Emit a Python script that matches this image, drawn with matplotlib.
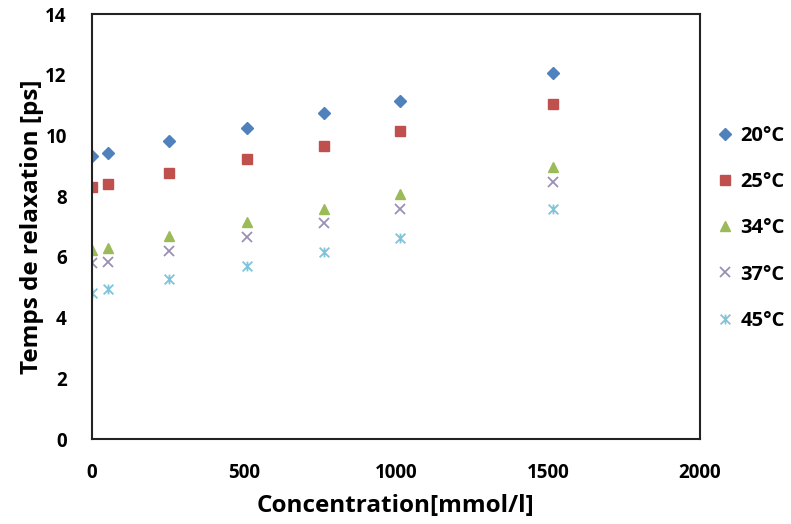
import matplotlib.pyplot as plt
from matplotlib.path import Path

# concentration (mmol/l)
conc = [0, 55, 255, 510, 765, 1015, 1515]

# relaxation time (ps) per temperature
t20 = [9.32, 9.44, 9.81, 10.25, 10.73, 11.14, 12.07]
t25 = [8.31, 8.40, 8.77, 9.23, 9.67, 10.14, 11.03]
t34 = [6.22, 6.31, 6.70, 7.14, 7.59, 8.07, 8.97]
t37 = [5.79, 5.84, 6.20, 6.66, 7.12, 7.57, 8.48]
t45 = [4.82, 4.93, 5.26, 5.70, 6.17, 6.64, 7.57]

labels = ['20°C', '25°C', '34°C', '37°C', '45°C']

# excel "star" marker: x with a vertical bar
star = Path([(-1, -1), (1, 1), (-1, 1), (1, -1), (0, -1), (0, 1)],
            [Path.MOVETO, Path.LINETO, Path.MOVETO, Path.LINETO, Path.MOVETO, Path.LINETO])

plt.rcParams['font.family'] = ['Open Sans', 'DejaVu Sans']

fig = plt.figure(figsize=(7.91, 5.24), dpi=100)
ax = fig.add_axes([0.116, 0.162, 0.769, 0.811])

ax.plot(conc, t20, 'D', color='#4F81BD', ms=6.5, ls='none', label=labels[0])
ax.plot(conc, t25, 's', color='#C0504D', ms=7, ls='none', label=labels[1])
ax.plot(conc, t34, '^', color='#9BBB59', ms=7.5, ls='none', label=labels[2])
ax.plot(conc, t37, 'x', color='#9A8FB5', ms=7, mew=1.3, ls='none', label=labels[3])
ax.plot(conc, t45, marker=star, color='#7FC4DA', ms=7, mew=1.3, ls='none', label=labels[4])

ax.set_xlim(0, 2000)
ax.set_ylim(0, 14)
ax.set_xticks([0, 500, 1000, 1500, 2000])
ax.set_yticks(range(0, 15, 2))
ax.tick_params(length=0, labelsize=13.5)
ax.tick_params(axis='x', pad=17)
ax.tick_params(axis='y', pad=18)
for lb in ax.get_xticklabels() + ax.get_yticklabels():
    lb.set_fontweight('bold')
for s in ax.spines.values():
    s.set_linewidth(1.5)
    s.set_color('#222222')

ax.set_xlabel('Concentration[mmol/l]', fontsize=17.5, fontweight='bold', labelpad=8)
ax.set_ylabel('Temps de relaxation [ps]', fontsize=17.5, fontweight='bold', labelpad=1)

leg = ax.legend(loc='center left', bbox_to_anchor=(1.028, 0.496), frameon=False,
                prop={'size': 14.5, 'weight': 'bold'}, labelspacing=1.3,
                handlelength=0.8, handletextpad=0.35, borderaxespad=0, borderpad=0)

fig.savefig('out.png', dpi=100)
